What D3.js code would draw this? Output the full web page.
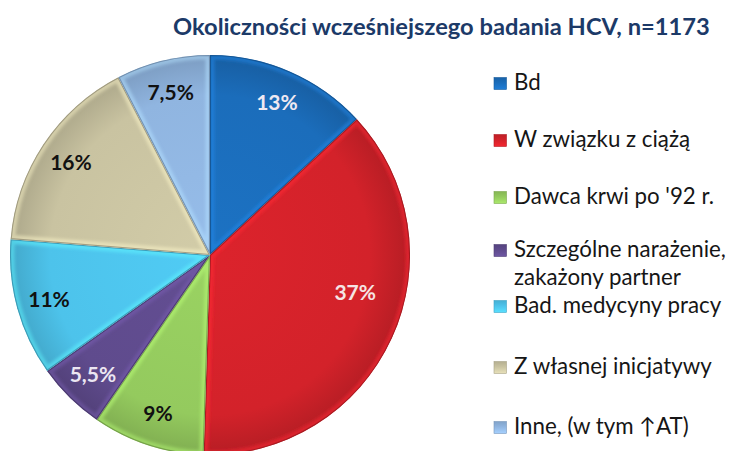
<!DOCTYPE html>
<html><head><meta charset="utf-8">
<script src="https://cdn.jsdelivr.net/npm/d3@7"></script>
<style>html,body{margin:0;padding:0;background:#fff}svg{display:block}</style>
</head><body>
<svg id="c" width="730" height="451"></svg>
<script>
const titleText = "Okoliczności wcześniejszego badania HCV, n=1173";
const categories = ["Bd","W związku z ciążą","Dawca krwi po '92 r.","Szczególne narażenie,\nzakażony partner","Bad. medycyny pracy","Z własnej inicjatywy","Inne, (w tym \u2191AT)"];
const values = [13,37,9,5.5,11,16,7.5];
const valueLabels = ["13%","37%","9%","5,5%","11%","16%","7,5%"];
const colors = ["#1b6dbb","#d3222a","#94ca5e","#5f4b8d","#4dc3eb","#c9c3a1","#90b5e0"];
const labelColors = ["#efe9f2","#f5e4e4","#111","#ece6f2","#111","#111","#111"];

const svg = d3.select("#c");
const cx = 210, cy = 255, R = 200;
const defs = svg.append("defs");

const blur = defs.append("filter").attr("id","blur").attr("x","-20%").attr("y","-20%").attr("width","140%").attr("height","140%");
blur.append("feGaussianBlur").attr("stdDeviation",1.6);

const pie = d3.pie().sort(null).startAngle(0).endAngle(2*Math.PI).value(d=>d);
const arcs = pie(values);
const arc = d3.arc().innerRadius(0).outerRadius(R);

const g = svg.append("g").attr("transform",`translate(${cx},${cy})`);

arcs.forEach((a,i)=>{
  const c = d3.color(colors[i]);
  const grad = defs.append("radialGradient").attr("id","rg"+i)
    .attr("gradientUnits","userSpaceOnUse").attr("cx",0).attr("cy",0).attr("r",R);
  grad.append("stop").attr("offset","0").attr("stop-color",c.brighter(0.12));
  grad.append("stop").attr("offset","0.8").attr("stop-color",c);
  grad.append("stop").attr("offset","0.97").attr("stop-color",c.darker(0.35));
  grad.append("stop").attr("offset","1").attr("stop-color",c.darker(0.6));
  defs.append("clipPath").attr("id","cp"+i).append("path").attr("d",arc(a));
  const sg = g.append("g").attr("clip-path",`url(#cp${i})`);
  sg.append("path").attr("d",arc(a)).attr("fill",`url(#rg${i})`);
  sg.append("path").attr("d",arc(a)).attr("fill","none")
    .attr("stroke",c.brighter(0.6)).attr("stroke-width",9).attr("stroke-opacity",0.55)
    .attr("filter","url(#blur)");
  sg.append("path").attr("d",arc(a)).attr("fill","none")
    .attr("stroke",c.darker(0.9)).attr("stroke-width",2.2).attr("stroke-opacity",0.8);
});

// value labels
const labelTweak = {1:{da:-10*Math.PI/180, rf:0.75}};
arcs.forEach((a,i)=>{
  const t = labelTweak[i] || {da:0, rf:0.835};
  const ang = (a.startAngle+a.endAngle)/2 + t.da;
  const r = R*t.rf;
  g.append("text")
    .attr("x", r*Math.sin(ang)).attr("y", -r*Math.cos(ang))
    .attr("dy","0.36em").attr("text-anchor","middle")
    .attr("font-family","Lato, 'Open Sans', sans-serif").attr("font-weight","bold")
    .attr("font-size",21).attr("fill",labelColors[i])
    .text(valueLabels[i]);
});

// title
const title = svg.append("text").attr("x",173).attr("y",35)
  .attr("font-family","Lato, 'Open Sans', sans-serif").attr("font-weight","bold")
  .attr("font-size",25).attr("fill","#1c3a68").text(titleText);
{
  const w = title.node().getComputedTextLength();
  title.attr("font-size", Math.min(26, 25*537/w));
}

// legend
const legendBaselines = [90,147,204,257,313,374,434];
const legendLineH = 28;
const lg = svg.append("g");
categories.forEach((name,i)=>{
  const c = d3.color(colors[i]);
  const lgr = defs.append("linearGradient").attr("id","lg"+i).attr("x1",0).attr("y1",0).attr("x2",0).attr("y2",1);
  lgr.append("stop").attr("offset","0").attr("stop-color",c.darker(0.3));
  lgr.append("stop").attr("offset","0.45").attr("stop-color",c);
  lgr.append("stop").attr("offset","1").attr("stop-color",c.brighter(0.4));
  const y = legendBaselines[i];
  lg.append("rect").attr("x",494).attr("y",y-12.5).attr("width",12.5).attr("height",12)
    .attr("fill",`url(#lg${i})`).attr("stroke",c.darker(0.5)).attr("stroke-width",0.6);
  const t = lg.append("text").attr("x",514).attr("y",y)
    .attr("font-family","Lato, 'Open Sans', sans-serif").attr("font-size",20).attr("fill","#161616");
  name.split("\n").forEach((ln,k)=>{
    t.append("tspan").attr("x",514).attr("y",y+k*legendLineH).text(ln);
  });
});
{
  let maxW = 0;
  lg.selectAll("tspan").each(function(){ maxW = Math.max(maxW, this.getComputedTextLength()); });
  lg.selectAll("text").attr("font-size", 20*212/maxW);
}
</script>
</body></html>
